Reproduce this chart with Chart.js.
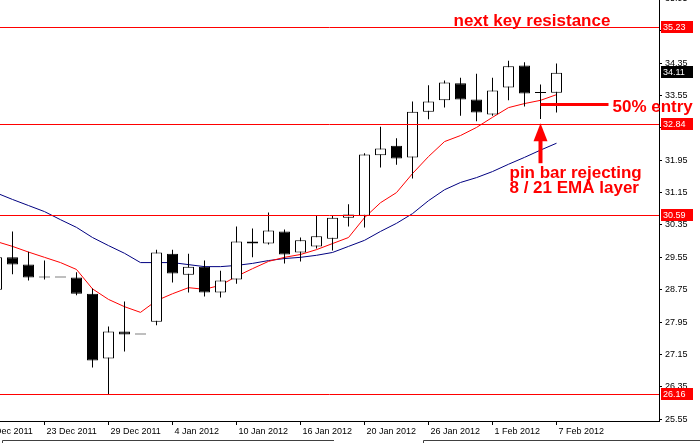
<!DOCTYPE html>
<html>
<head>
<meta charset="utf-8">
<script src="https://cdn.jsdelivr.net/npm/chart.js@4.4.0/dist/chart.umd.min.js"></script>
<style>
  html, body { margin: 0; padding: 0; background: #fff; }
  #wrap { position: relative; width: 700px; height: 443px; }
</style>
</head>
<body>
<div id="wrap"><canvas id="priceChart"></canvas></div>
<script>
// daily bars 20 Dec 2011 .. 7 Feb 2012 (x index = position in these arrays)
const dates = ['20 Dec 2011', '21 Dec 2011', '22 Dec 2011', '23 Dec 2011', '26 Dec 2011', '27 Dec 2011',
    '28 Dec 2011', '29 Dec 2011', '30 Dec 2011', '2 Jan 2012', '3 Jan 2012', '4 Jan 2012', '5 Jan 2012',
    '6 Jan 2012', '9 Jan 2012', '10 Jan 2012', '11 Jan 2012', '12 Jan 2012', '13 Jan 2012', '16 Jan 2012',
    '17 Jan 2012', '18 Jan 2012', '19 Jan 2012', '20 Jan 2012', '23 Jan 2012', '24 Jan 2012', '25 Jan 2012',
    '26 Jan 2012', '27 Jan 2012', '30 Jan 2012', '31 Jan 2012', '1 Feb 2012', '2 Feb 2012', '3 Feb 2012',
    '6 Feb 2012', '7 Feb 2012'];
const open = [28.75, 29.55, 29.37, 29.05, 29.05, 29.05, 28.65, 27.05, 27.72, 27.64, 27.96, 29.64,
    29.12, 29.32, 28.68, 29.00, 29.89, 29.89, 30.19, 29.67, 29.82, 30.01, 30.53, 30.58, 32.07, 32.31,
    32.02, 33.15, 33.43, 33.85, 33.45, 33.08, 33.75, 34.29, 33.62, 33.62];
const high = [29.70, 30.19, 29.69, 29.47, 29.05, 29.18, 28.78, 27.84, 28.46, 27.64, 29.74, 29.74,
    29.64, 29.47, 29.22, 30.31, 30.26, 30.66, 30.24, 30.04, 30.58, 30.58, 30.86, 32.12, 32.78, 32.49,
    33.40, 33.80, 33.92, 33.99, 34.09, 33.99, 34.41, 34.37, 33.82, 34.34];
const low = [28.60, 29.13, 28.98, 29.00, 29.05, 28.61, 26.83, 26.16, 27.22, 27.64, 27.87, 28.93,
    28.68, 28.58, 28.56, 28.90, 29.55, 29.87, 29.40, 29.45, 29.77, 29.72, 30.31, 30.29, 31.77, 31.84,
    31.50, 32.96, 33.25, 33.05, 32.91, 33.05, 33.43, 33.28, 32.97, 33.13];
const close = [29.55, 29.37, 29.05, 29.05, 29.05, 28.65, 27.00, 27.72, 27.64, 27.64, 29.67, 29.15,
    29.32, 28.68, 28.98, 29.94, 29.94, 30.21, 29.62, 29.97, 30.07, 30.53, 30.61, 32.09, 32.24, 31.99,
    33.15, 33.40, 33.87, 33.45, 33.13, 33.67, 34.27, 33.60, 33.61, 34.11];
const ema8 = [29.94, 29.82, 29.68, 29.55, 29.42, 29.25, 28.77, 28.51, 28.33, 28.19, 28.48, 28.65,
    28.80, 28.76, 28.86, 29.08, 29.27, 29.45, 29.55, 29.62, 29.74, 29.89, 30.04, 30.53, 30.90, 31.15,
    31.62, 32.04, 32.41, 32.56, 32.76, 33.01, 33.25, 33.35, 33.43, 33.57];
const ema21 = [31.14, 30.98, 30.83, 30.68, 30.48, 30.29, 30.04, 29.84, 29.65, 29.42, 29.42, 29.42,
    29.37, 29.32, 29.32, 29.35, 29.40, 29.47, 29.52, 29.55, 29.60, 29.67, 29.82, 29.97, 30.19, 30.39,
    30.63, 30.95, 31.22, 31.40, 31.52, 31.67, 31.85, 32.02, 32.20, 32.37];

const levels = [35.23, 32.84, 30.59, 26.16];
const entryLevel = 33.33;
const pinBar = 34;
const lastPrice = close[close.length - 1];

const priceTicks = [25.55, 26.35, 27.15, 27.95, 28.75, 29.55, 30.35, 31.15, 31.95, 32.75, 33.55,
    34.35, 35.15, 35.95];
const dateTicks = [-1, 3, 7, 11, 15, 19, 23, 27, 31, 35];
const dateTickLabels = ['19 Dec 2011', '23 Dec 2011', '29 Dec 2011', '4 Jan 2012', '10 Jan 2012',
    '16 Jan 2012', '20 Jan 2012', '26 Jan 2012', '1 Feb 2012', '7 Feb 2012'];

Chart.defaults.font.family = "'Liberation Sans', Arial, sans-serif";
Chart.defaults.font.size = 9;
Chart.defaults.color = '#000';

const overlay = {
    id: 'overlay',
    afterDatasetsDraw(chart) {
        const { ctx, chartArea: a, scales: { x, y } } = chart;
        ctx.save();
        ctx.beginPath();
        ctx.rect(a.left, a.top, a.right - a.left, a.bottom - a.top);
        ctx.clip();

        // horizontal levels
        ctx.strokeStyle = '#ff0000';
        ctx.lineWidth = 1;
        levels.forEach(v => {
            const py = Math.floor(y.getPixelForValue(v)) + 0.5;
            ctx.beginPath();
            ctx.moveTo(a.left, py);
            ctx.lineTo(a.right, py);
            ctx.stroke();
        });

        // 50% entry line from the pin bar
        const px = x.getPixelForValue(pinBar);
        const ey = y.getPixelForValue(entryLevel);
        ctx.lineWidth = 3;
        ctx.beginPath();
        ctx.moveTo(px, ey);
        ctx.lineTo(px + 68, ey);
        ctx.stroke();

        // arrow under the pin bar
        const tip = y.getPixelForValue(levels[1]) - 1;
        ctx.fillStyle = '#ff0000';
        ctx.beginPath();
        ctx.moveTo(px, tip);
        ctx.lineTo(px - 7, tip + 18);
        ctx.lineTo(px + 7, tip + 18);
        ctx.closePath();
        ctx.fill();
        ctx.fillRect(px - 2, tip + 17, 4, 23);
        ctx.restore();
    },
    afterDraw(chart) {
        const { ctx, chartArea: a, scales: { x, y } } = chart;
        ctx.save();
        ctx.font = "9px 'Liberation Sans', Arial, sans-serif";
        ctx.textBaseline = 'middle';
        const tag = (v, bg) => {
            const py = Math.floor(y.getPixelForValue(v));
            ctx.fillStyle = bg;
            ctx.fillRect(a.right + 2, py - 6, 32, 12);
            ctx.fillStyle = '#fff';
            ctx.fillText(v.toFixed(2), a.right + 4, py + 0.5);
        };
        levels.forEach(v => tag(v, '#ff0000'));
        tag(lastPrice, '#000000');

        // text notes (they run over the price axis)
        const px = x.getPixelForValue(pinBar);
        const ey = y.getPixelForValue(entryLevel);
        const tip = y.getPixelForValue(levels[1]) - 1;
        ctx.fillStyle = '#ff0000';
        ctx.font = "bold 17px 'Liberation Sans', Arial, sans-serif";
        ctx.textBaseline = 'alphabetic';
        ctx.textAlign = 'left';
        ctx.fillText('next key resistance', px - 87, y.getPixelForValue(levels[0]) - 1.5);
        ctx.fillText('50% entry', px + 72, ey + 8);
        ctx.fillText('pin bar rejecting', px - 31, tip + 55);
        ctx.fillText('8 / 21 EMA layer', px - 31, tip + 70);

        // bottom panel border
        ctx.strokeStyle = '#404040';
        ctx.lineWidth = 1;
        ctx.beginPath();
        ctx.moveTo(2.5, 443);
        ctx.lineTo(2.5, 440.5);
        ctx.lineTo(334, 440.5);
        ctx.moveTo(423.5, 443);
        ctx.lineTo(423.5, 440.5);
        ctx.lineTo(700, 440.5);
        ctx.stroke();
        ctx.restore();
    }
};

const idx = dates.map((d, i) => i);

new Chart(document.getElementById('priceChart'), {
    type: 'bar',
    data: {
        datasets: [{
            type: 'line',
            label: 'EMA 8',
            data: idx.map(i => ({ x: i, y: ema8[i] })),
            borderColor: '#ff0000',
            borderWidth: 1,
            pointRadius: 0,
            tension: 0,
            order: 3
        }, {
            type: 'line',
            label: 'EMA 21',
            data: idx.map(i => ({ x: i, y: ema21[i] })),
            borderColor: '#000080',
            borderWidth: 1,
            pointRadius: 0,
            tension: 0,
            order: 3
        }, {
            label: 'wick',
            data: idx.map(i => ({ x: i, y: [low[i], high[i]] })),
            backgroundColor: '#000',
            borderWidth: 0,
            barThickness: 1,
            grouped: false,
            inflateAmount: 0,
            order: 2
        }, {
            label: 'body',
            data: idx.map(i => ({ x: i, y: [open[i], close[i]] })),
            backgroundColor: idx.map(i => close[i] >= open[i] ? '#ffffff' : '#000000'),
            borderColor: '#000',
            borderWidth: 1,
            borderSkipped: false,
            barThickness: 11,
            minBarLength: 1,
            grouped: false,
            inflateAmount: 0,
            order: 1
        }]
    },
    options: {
        responsive: true,
        maintainAspectRatio: false,
        animation: false,
        layout: { padding: 0 },
        plugins: {
            legend: { display: false },
            tooltip: { enabled: false }
        },
        scales: {
            x: {
                type: 'linear',
                offset: false,
                min: 0.21875,
                max: 41.40625,
                afterBuildTicks: (scale) => {
                    scale.ticks = dateTicks.map(v => ({ value: v }));
                },
                afterFit: (scale) => {
                    scale.height = 22;
                    scale.paddingLeft = 0;
                    scale.paddingRight = 0;
                },
                ticks: {
                    autoSkip: false,
                    maxRotation: 0,
                    align: 'start',
                    labelOffset: 2,
                    padding: 1,
                    callback: (v) => dateTickLabels[dateTicks.indexOf(v)]
                },
                grid: {
                    drawOnChartArea: false,
                    offset: false,
                    color: '#000',
                    tickLength: 4
                },
                border: { display: true, color: '#000', width: 1 }
            },
            y: {
                type: 'linear',
                position: 'right',
                min: 25.5051,
                max: 35.9096,
                afterBuildTicks: (scale) => {
                    scale.ticks = priceTicks.map(v => ({ value: v }));
                },
                afterFit: (scale) => {
                    scale.width = 41;
                    scale.paddingTop = 0;
                    scale.paddingBottom = 0;
                },
                ticks: {
                    autoSkip: false,
                    padding: 3,
                    callback: (v) => v.toFixed(2)
                },
                grid: {
                    drawOnChartArea: false,
                    color: '#000',
                    tickLength: 3
                },
                border: { display: true, color: '#000', width: 1 }
            }
        }
    },
    plugins: [overlay]
});
</script>
</body>
</html>
